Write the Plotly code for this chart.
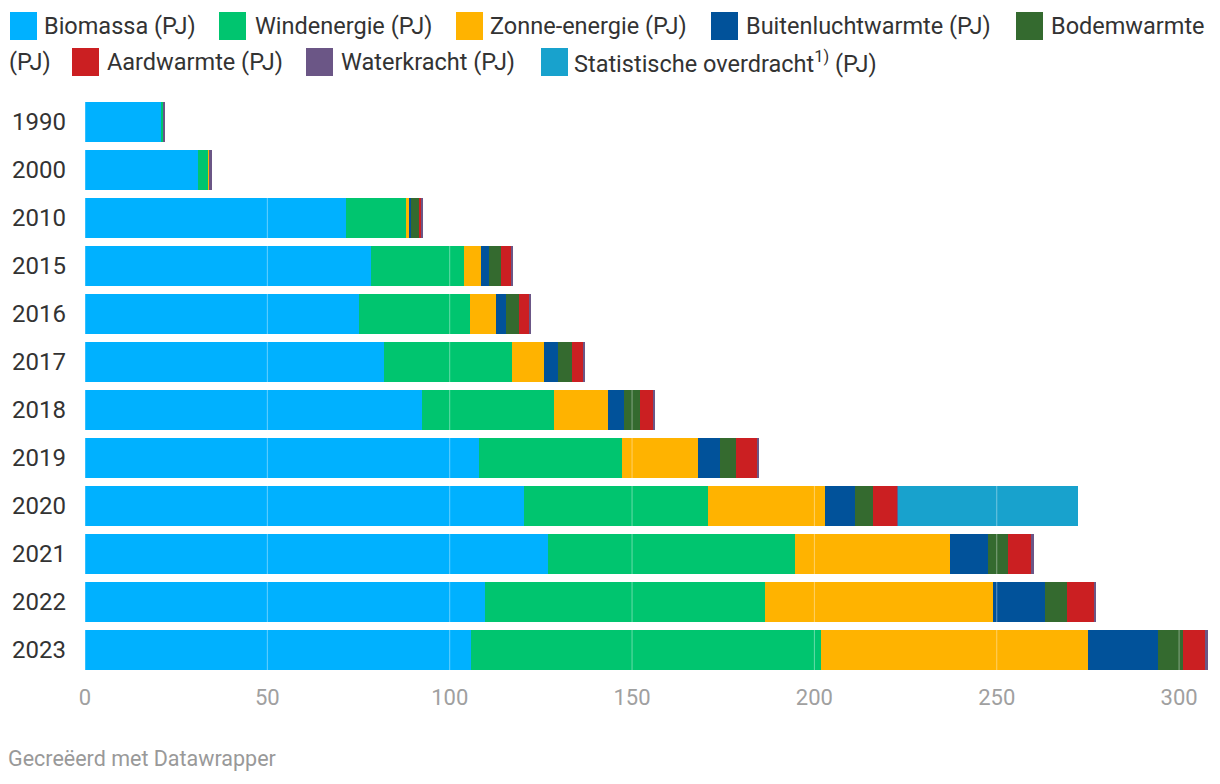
import plotly.graph_objects as go

years = ["1990", "2000", "2010", "2015", "2016", "2017", "2018", "2019", "2020", "2021", "2022", "2023"]

biomassa = [21.1, 30.9, 71.5, 78.3, 75.0, 81.9, 92.3, 108.1, 120.4, 127.0, 109.8, 105.9]
wind = [0.35, 2.7, 16.4, 25.5, 30.5, 35.1, 36.2, 39.1, 50.3, 67.8, 76.7, 96.0]
zon = [0.0, 0.6, 1.1, 4.9, 7.1, 8.8, 14.8, 20.8, 32.3, 42.3, 62.6, 73.0]
buitenlucht = [0.0, 0.0, 0.5, 2.2, 2.7, 3.8, 4.4, 6.1, 8.2, 10.4, 14.2, 19.2]
bodem = [0.0, 0.0, 2.2, 3.3, 3.8, 3.8, 4.4, 4.4, 4.9, 5.5, 6.0, 7.1]
aard = [0.0, 0.0, 0.5, 2.7, 2.7, 3.3, 3.8, 6.0, 6.7, 6.6, 7.4, 6.1]
water = [0.55, 0.5, 0.5, 0.5, 0.5, 0.5, 0.5, 0.4, 0.2, 0.5, 0.4, 0.5]
statistisch = [0, 0, 0, 0, 0, 0, 0, 0, 49.4, 0, 0, 0]

series_names = ["Biomassa (PJ)", "Windenergie (PJ)", "Zonne-energie (PJ)", "Buitenluchtwarmte (PJ)",
                "Bodemwarmte (PJ)", "Aardwarmte (PJ)", "Waterkracht (PJ)",
                "Statistische overdracht<sup>1)</sup> (PJ)"]
series_values = [biomassa, wind, zon, buitenlucht, bodem, aard, water, statistisch]
colors = ["#00b1ff", "#00c56f", "#ffb300", "#01529a", "#346a2f", "#cb1f22", "#6b5686", "#18a2cd"]

x_ticks = [0, 50, 100, 150, 200, 250, 300]

FONT = "Roboto"
W, H = 1220, 784
ML, MR, MT, MB = 85, 11, 98, 110
PW = W - ML - MR
PH = H - MT - MB

fig = go.Figure()
for name, vals, col in zip(series_names, series_values, colors):
    fig.add_trace(go.Bar(
        y=years, x=vals, name=name, orientation="h",
        marker=dict(color=col, line=dict(width=0)),
        showlegend=False,
    ))

# gridlines drawn above bars (semi-transparent white)
for t in x_ticks:
    fig.add_shape(type="line", xref="x", yref="paper", x0=t, x1=t, y0=0, y1=1,
                  line=dict(color="rgba(255,255,255,0.4)", width=1), layer="above")

def px2x(px):
    return (px - ML) / PW

def px2y(py):
    return (H - MB - py) / PH

LEG_SIZE = 23.5
# custom legend (Datawrapper style wrapping)
legend_items = [
    # (label, square_left_px, text_left_px, center_y_px, color)
    ("Biomassa (PJ)", 10, 42, 26, colors[0]),
    ("Windenergie (PJ)", 219, 253, 26, colors[1]),
    ("Zonne-energie (PJ)", 456, 488, 26, colors[2]),
    ("Buitenluchtwarmte (PJ)", 711, 744, 26, colors[3]),
    ("Bodemwarmte", 1016, 1049, 26, colors[4]),
    ("Aardwarmte (PJ)", 72, 105, 62, colors[5]),
    ("Waterkracht (PJ)", 306, 339, 62, colors[6]),
    ("Statistische overdracht<sup>1)</sup> (PJ)", 541, 572, 62, colors[7]),
]
for label, sx, tx, cy, col in legend_items:
    fig.add_shape(type="rect", xref="paper", yref="paper",
                  x0=px2x(sx), x1=px2x(sx + 27), y0=px2y(cy + 14), y1=px2y(cy - 14),
                  fillcolor=col, line=dict(width=0), layer="above")
    fig.add_annotation(xref="paper", yref="paper", x=px2x(tx), y=px2y(cy),
                       text=label, showarrow=False, xanchor="left", yanchor="middle",
                       font=dict(family=FONT, size=LEG_SIZE, color="#333333"))
fig.add_annotation(xref="paper", yref="paper", x=px2x(7), y=px2y(62),
                   text="(PJ)", showarrow=False, xanchor="left", yanchor="middle",
                   font=dict(family=FONT, size=LEG_SIZE, color="#333333"))

fig.add_annotation(xref="paper", yref="paper", x=px2x(6), y=px2y(758),
                   text="Gecreëerd met Datawrapper", showarrow=False, xanchor="left", yanchor="middle",
                   font=dict(family=FONT, size=21.5, color="#999999"))

fig.update_layout(
    barmode="stack",
    bargap=0.167,
    width=W, height=H,
    margin=dict(l=ML, r=MR, t=MT, b=MB, pad=0),
    paper_bgcolor="white", plot_bgcolor="white",
    font=dict(family=FONT, size=22, color="#333333"),
    xaxis=dict(range=[0, 308.2], tickvals=x_ticks, showgrid=False, zeroline=False,
               showline=False, ticks="", tickfont=dict(family=FONT, size=22, color="#a0a0a0"),
               ticklabelstandoff=8, fixedrange=True),
    yaxis=dict(autorange="reversed", showgrid=False, zeroline=False, showline=False,
               ticks="", tickfont=dict(family=FONT, size=24, color="#333333"),
               ticklabelstandoff=18, type="category", fixedrange=True),
)

fig.write_html("out.html", config={"displayModeBar": False},
               post_script="document.body.style.margin='0';document.body.style.padding='0';")
